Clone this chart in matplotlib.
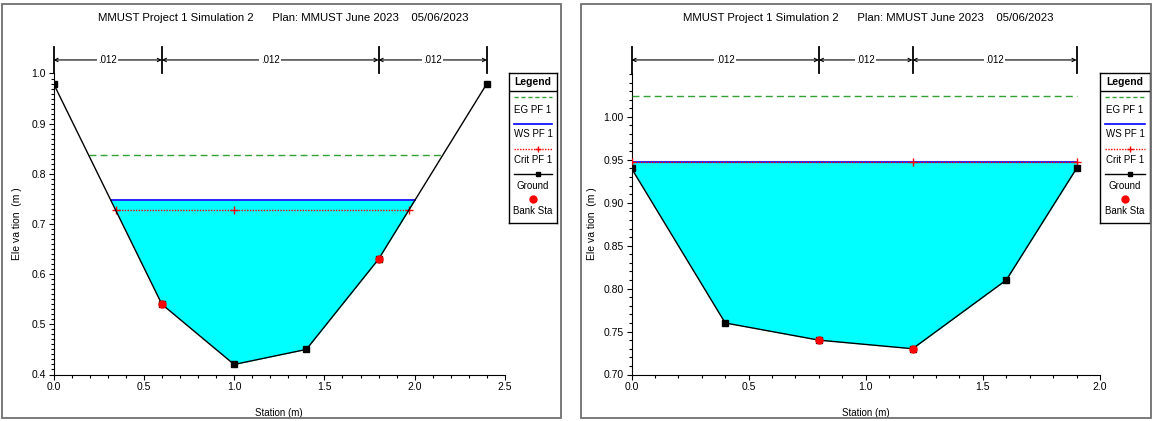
import matplotlib
matplotlib.use("Agg")
import matplotlib.pyplot as plt
import matplotlib.transforms as mtransforms
from matplotlib.patches import Rectangle
from matplotlib.ticker import FixedLocator, MultipleLocator, FormatStrFormatter
import numpy as np

plt.rcParams["font.family"] = ["Liberation Sans Narrow", "Liberation Sans", "DejaVu Sans"]

# ── Data ──────────────────────────────────────────────────────────────────────
title = "MMUST Project 1 Simulation 2      Plan: MMUST June 2023    05/06/2023"

# left cross-section
sta_a    = [0.0, 0.6, 1.0, 1.4, 1.8, 2.4]
ground_a = [0.98, 0.54, 0.42, 0.45, 0.63, 0.98]
bank_a   = [0.6, 1.8]
dims_a   = [0.0, 0.6, 1.8, 2.4]
n_a      = [".012", ".012", ".012"]
eg_a, ws_a, crit_a = 0.837, 0.747, 0.728

# right cross-section
sta_b    = [0.0, 0.4, 0.8, 1.2, 1.6, 1.9]
ground_b = [0.94, 0.76, 0.74, 0.73, 0.81, 0.94]
bank_b   = [0.8, 1.2]
dims_b   = [0.0, 0.8, 1.2, 1.9]
n_b      = [".012", ".012", ".012"]
eg_b, ws_b, crit_b = 1.024, 0.948, 0.948

W, H = 1152, 421


def edges(sta, z, level):
    """stations where a water level meets the ground on each bank"""
    sta, z = np.asarray(sta), np.asarray(z)
    if z[0] <= level:
        left = sta[0]
    else:
        i = np.argmax(z <= level)
        left = np.interp(level, [z[i], z[i - 1]], [sta[i], sta[i - 1]])
    if z[-1] <= level:
        right = sta[-1]
    else:
        j = len(z) - 1 - np.argmax(z[::-1] <= level)
        right = np.interp(level, [z[j], z[j + 1]], [sta[j], sta[j + 1]])
    return left, right


def px_axes(x0, x1, ytop, ybot):
    return [x0 / W, 1 - ybot / H, (x1 - x0) / W, (ybot - ytop) / H]


def draw_xs(ax, sta, z, bank, dims, nvals, eg, ws, crit, xmax, ylim, ymaj, fmt):
    sta, z = np.asarray(sta), np.asarray(z)
    # water fill
    l, r = edges(sta, z, ws)
    xs = np.concatenate([[l], sta[(sta > l) & (sta < r)], [r]])
    zs = np.minimum(np.interp(xs, sta, z), ws)
    ax.fill_between(xs, zs, ws, color="#00FFFF", lw=0, zorder=1)
    # EG
    l, r = edges(sta, z, eg)
    ax.plot([l, r], [eg, eg], color="#33A033", ls=(0, (5, 3)), lw=1, zorder=3)
    # WS
    l, r = edges(sta, z, ws)
    ax.plot([l, r], [ws, ws], color="#0000FF", lw=1.2, zorder=3)
    # Crit
    l, r = edges(sta, z, crit)
    ax.plot([l, r], [crit, crit], color="red", ls=(0, (1, 1)), lw=1, zorder=4)
    ax.plot([l, sta[np.argmin(z)], r], [crit] * 3, ls="none", marker="+",
            color="red", ms=6, mew=1, zorder=4)
    # ground
    ax.plot(sta, z, color="black", lw=1, marker="s", ms=3.8, zorder=5)
    ax.plot(bank, np.interp(bank, sta, z), ls="none", marker="o", ms=5,
            color="red", zorder=6)

    ax.set_xlim(0, xmax)
    ax.set_ylim(*ylim)
    ax.xaxis.set_major_locator(MultipleLocator(0.5))
    ax.xaxis.set_minor_locator(MultipleLocator(0.1))
    ax.xaxis.set_major_formatter(FormatStrFormatter("%.1f"))
    ax.yaxis.set_major_locator(FixedLocator(ymaj))
    ax.yaxis.set_minor_locator(MultipleLocator(0.01))
    ax.yaxis.set_major_formatter(FormatStrFormatter(fmt))
    for s in ["top", "right"]:
        ax.spines[s].set_visible(False)
    ax.tick_params(which="major", length=3.5, width=0.8, labelsize=7.5, pad=2)
    ax.tick_params(which="minor", length=2.5, width=0.8)
    ax.set_xlabel("Station (m)", fontsize=7)
    ax.set_ylabel("Ele va tion  (m )", fontsize=7.5)

    # Manning's n dimension lines above the plot
    tr = mtransforms.blended_transform_factory(ax.transData, ax.transAxes)
    for d in dims:
        ax.plot([d, d], [1.0, 1.088], color="black", lw=1.3, transform=tr, clip_on=False)
    for a, b, n in zip(dims[:-1], dims[1:], nvals):
        ax.annotate("", xy=(b, 1.045), xytext=(a, 1.045), xycoords=tr, textcoords=tr,
                    arrowprops=dict(arrowstyle="<->", lw=0.8, color="black",
                                    shrinkA=0, shrinkB=0, mutation_scale=6))
        ax.text((a + b) / 2, 1.045, n, transform=tr, ha="center", va="center",
                fontsize=7, bbox=dict(facecolor="white", edgecolor="none", pad=1))


def draw_legend(fig, x0, x1, ytop, ybot):
    lg = fig.add_axes(px_axes(x0, x1, ytop, ybot))
    lg.set_xlim(0, 1)
    lg.set_ylim(ybot - ytop, 0)
    lg.set_xticks([])
    lg.set_yticks([])
    for s in lg.spines.values():
        s.set_linewidth(1)
    lg.text(0.5, 9.4, "Legend", ha="center", va="center", fontsize=7.5, fontweight="bold")
    lg.axhline(17.7, color="black", lw=1)
    lg.plot([0.1, 0.9], [24.4, 24.4], color="#33A033", ls=(0, (3, 2)), lw=1)
    lg.text(0.5, 37.4, "EG PF 1", ha="center", va="center", fontsize=7)
    lg.plot([0.1, 0.9], [50.7, 50.7], color="#0000FF", lw=1.2)
    lg.text(0.5, 60.7, "WS PF 1", ha="center", va="center", fontsize=7)
    lg.plot([0.1, 0.9], [75.7, 75.7], color="red", ls=(0, (1, 1)), lw=1)
    lg.plot([0.6], [75.7], marker="+", color="red", ms=5)
    lg.text(0.5, 87.4, "Crit PF 1", ha="center", va="center", fontsize=7)
    lg.plot([0.1, 0.9], [101, 101], color="black", lw=1)
    lg.plot([0.6], [101], marker="s", color="black", ms=3.5)
    lg.text(0.5, 113.4, "Ground", ha="center", va="center", fontsize=7)
    lg.plot([0.5], [126], marker="o", color="red", ms=5)
    lg.text(0.5, 138.4, "Bank Sta", ha="center", va="center", fontsize=7)


fig = plt.figure(figsize=(W / 100, H / 100), dpi=100)

# panel frames
for x0, x1 in [(2, 561), (581, 1151)]:
    fig.patches.append(Rectangle((x0 / W, 1 - 418 / H), (x1 - x0) / W, 414 / H,
                                 transform=fig.transFigure, fill=False,
                                 edgecolor="#707070", lw=1.3))

ax1 = fig.add_axes(px_axes(53.5, 505, 73.5, 374.5))
draw_xs(ax1, sta_a, ground_a, bank_a, dims_a, n_a, eg_a, ws_a, crit_a,
        2.5, (0.4, 1.0), [0.4, 0.5, 0.6, 0.7, 0.8, 0.9, 1.0], "%.1f")
ax1.yaxis.set_label_coords(-0.07, 0.5)
ax1.xaxis.set_label_coords(0.5, -0.11)

ax2 = fig.add_axes(px_axes(631.5, 1100, 73.5, 374.5))
draw_xs(ax2, sta_b, ground_b, bank_b, dims_b, n_b, eg_b, ws_b, crit_b,
        2.0, (0.70, 1.0505), [0.70, 0.75, 0.80, 0.85, 0.90, 0.95, 1.00], "%.2f")
ax2.yaxis.set_label_coords(-0.074, 0.5)
ax2.xaxis.set_label_coords(0.5, -0.11)

draw_legend(fig, 509, 557, 73, 223)
draw_legend(fig, 1100, 1150, 73, 223)

fig.text(283 / W, 1 - 18 / H, title, ha="center", va="center", fontsize=8.2)
fig.text(868 / W, 1 - 18 / H, title, ha="center", va="center", fontsize=8.2)

plt.savefig("out.png", dpi=100)
plt.close()
